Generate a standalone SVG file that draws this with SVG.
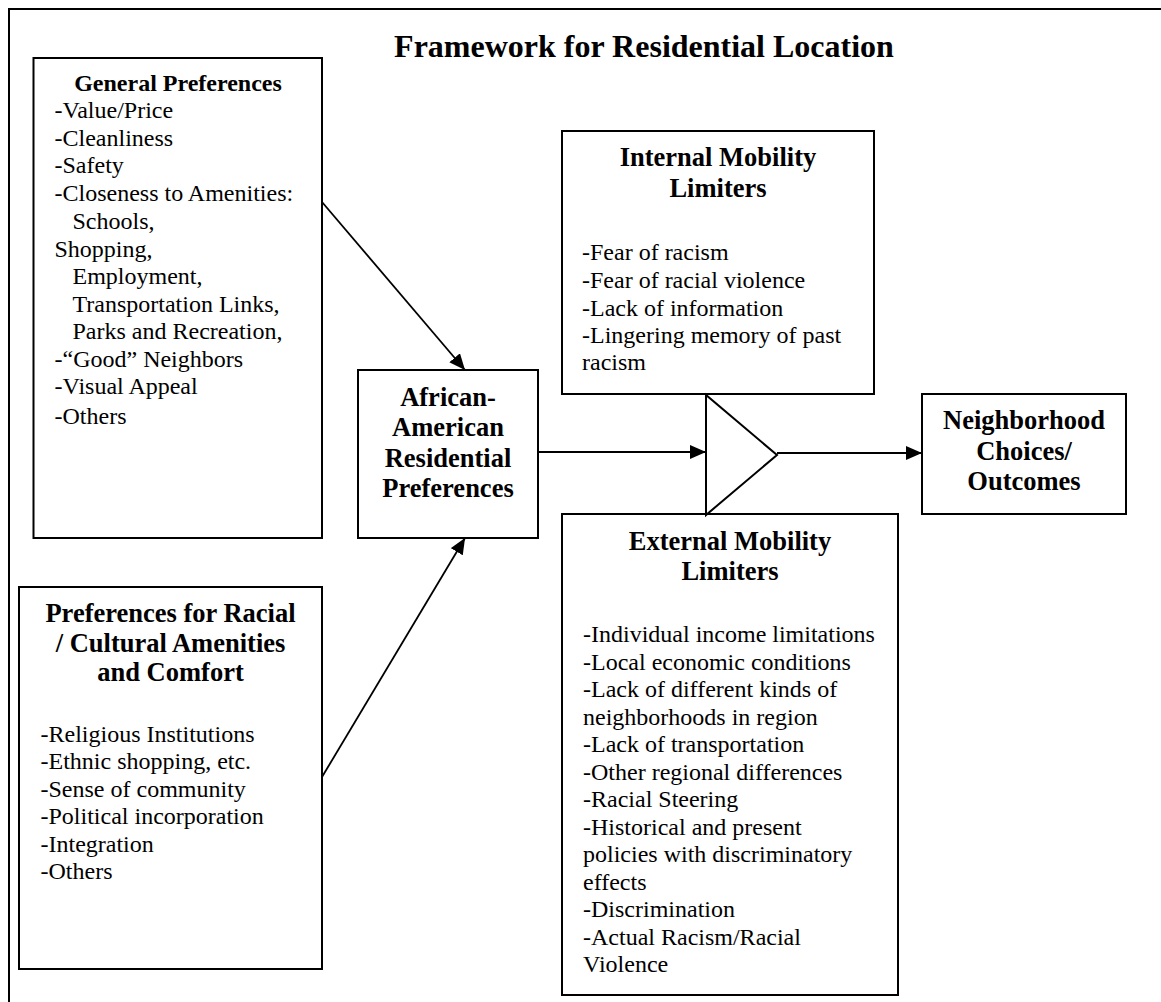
<svg xmlns="http://www.w3.org/2000/svg" width="1161" height="1002" viewBox="0 0 1161 1002">
<style>
.box{fill:#fff;stroke:#000;stroke-width:2}
.t{font-family:"Liberation Serif","Times New Roman",serif;font-size:24px;fill:#000}
.h{font-family:"Liberation Serif","Times New Roman",serif;font-size:26.5px;font-weight:bold;fill:#000;text-anchor:middle}
.c{stroke:#000;stroke-width:1.8;fill:none}
</style>
<defs>
<marker id="ah" markerUnits="userSpaceOnUse" markerWidth="18" markerHeight="14" refX="16" refY="7" orient="auto">
<path d="M0,0 L16,7 L0,14 Z" fill="#000"/>
</marker>
</defs>
<rect x="9" y="9" width="1200" height="1100" fill="#fff" stroke="#000" stroke-width="2"/>
<text x="644" y="57" class="h" style="font-size:32px">Framework for Residential Location</text>

<g id="general">
<rect class="box" x="33.5" y="58" width="288.5" height="480"/>
<text x="178" y="91" class="h" style="font-size:24px">General Preferences</text>
<text class="t" x="54.5" y="118">-Value/Price</text>
<text class="t" x="54.5" y="146">-Cleanliness</text>
<text class="t" x="54.5" y="173">-Safety</text>
<text class="t" x="54.5" y="201">-Closeness to Amenities:</text>
<text class="t" x="72.5" y="229">Schools,</text>
<text class="t" x="54.5" y="257">Shopping,</text>
<text class="t" x="72.5" y="284">Employment,</text>
<text class="t" x="72.5" y="312">Transportation Links,</text>
<text class="t" x="72.5" y="339">Parks and Recreation,</text>
<text class="t" x="54.5" y="367">-“Good” Neighbors</text>
<text class="t" x="54.5" y="394">-Visual Appeal</text>
<text class="t" x="54.5" y="424">-Others</text>
</g>

<g id="racial">
<rect class="box" x="19" y="587" width="303" height="382"/>
<text x="170.5" y="622" class="h">Preferences for Racial</text>
<text x="170.5" y="652" class="h">/ Cultural Amenities</text>
<text x="170.5" y="681" class="h">and Comfort</text>
<text class="t" x="40.5" y="742">-Religious Institutions</text>
<text class="t" x="40.5" y="769">-Ethnic shopping, etc.</text>
<text class="t" x="40.5" y="797">-Sense of community</text>
<text class="t" x="40.5" y="824">-Political incorporation</text>
<text class="t" x="40.5" y="852">-Integration</text>
<text class="t" x="40.5" y="879">-Others</text>
</g>

<g id="african">
<rect class="box" x="358" y="370" width="180" height="168"/>
<text x="448" y="406" class="h">African-</text>
<text x="448" y="436" class="h">American</text>
<text x="448" y="467" class="h">Residential</text>
<text x="448" y="497" class="h">Preferences</text>
</g>

<g id="internal">
<rect class="box" x="562" y="131" width="312" height="263"/>
<text x="718" y="166" class="h">Internal Mobility</text>
<text x="718" y="197" class="h">Limiters</text>
<text class="t" x="582" y="260">-Fear of racism</text>
<text class="t" x="582" y="288">-Fear of racial violence</text>
<text class="t" x="582" y="316">-Lack of information</text>
<text class="t" x="582" y="343">-Lingering memory of past</text>
<text class="t" x="582" y="370">racism</text>
</g>

<g id="external">
<rect class="box" x="562" y="514" width="336" height="481"/>
<text x="730" y="550" class="h">External Mobility</text>
<text x="730" y="580" class="h">Limiters</text>
<text class="t" x="583" y="642">-Individual income limitations</text>
<text class="t" x="583" y="669.5">-Local economic conditions</text>
<text class="t" x="583" y="697">-Lack of different kinds of</text>
<text class="t" x="583" y="724.5">neighborhoods in region</text>
<text class="t" x="583" y="752">-Lack of transportation</text>
<text class="t" x="583" y="779.5">-Other regional differences</text>
<text class="t" x="583" y="807">-Racial Steering</text>
<text class="t" x="583" y="834.5">-Historical and present</text>
<text class="t" x="583" y="862">policies with discriminatory</text>
<text class="t" x="583" y="889.5">effects</text>
<text class="t" x="583" y="917">-Discrimination</text>
<text class="t" x="583" y="944.5">-Actual Racism/Racial</text>
<text class="t" x="583" y="972">Violence</text>
</g>

<g id="combiner">
<polygon points="706,395 706,515 777,455" fill="#fff" stroke="#000" stroke-width="2"/>
</g>

<g id="outcomes">
<rect class="box" x="922" y="394" width="204" height="120"/>
<text x="1024" y="429" class="h">Neighborhood</text>
<text x="1024" y="460" class="h">Choices/</text>
<text x="1024" y="490" class="h">Outcomes</text>
</g>

<g id="connectors">
<line class="c" x1="322" y1="202" x2="465" y2="370" marker-end="url(#ah)"/>
<line class="c" x1="322" y1="777" x2="465" y2="538" marker-end="url(#ah)"/>
<line class="c" x1="538" y1="452" x2="706" y2="452" marker-end="url(#ah)"/>
<line class="c" x1="777" y1="453" x2="922" y2="453" marker-end="url(#ah)"/>
</g>
</svg>
